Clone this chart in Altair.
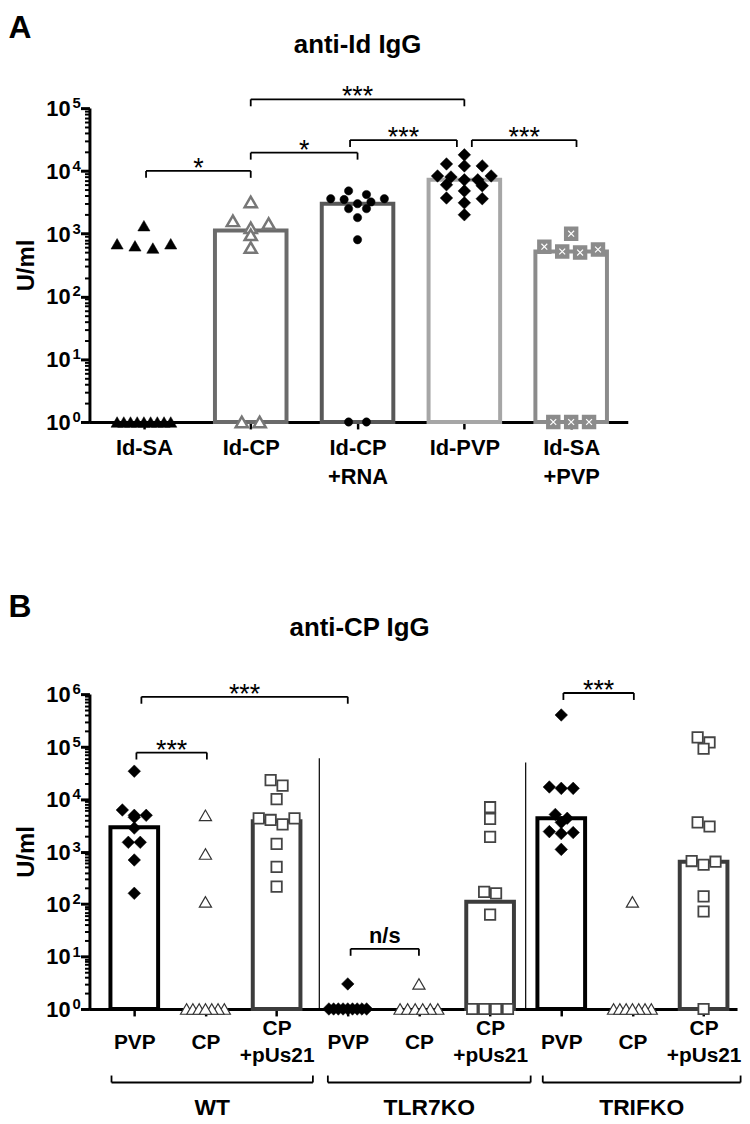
import json
import math
import altair as alt
import pandas as pd

FONT = "Liberation Sans"

# ---------------- Panel A : anti-Id IgG ----------------
A_LABELS = [["Id-SA"], ["Id-CP"], ["Id-CP", "+RNA"], ["Id-PVP"], ["Id-SA", "+PVP"]]
A_ID_SA = [1340, 690, 640, 590, 690, 1, 1, 1, 1, 1, 1, 1, 1, 1]
A_ID_CP = [3200, 1600, 1450, 1240, 960, 600, 1, 1]
A_ID_CP_RNA = [4800, 4200, 3600, 3600, 3500, 3200, 3000, 2500, 2500, 1800, 800, 1, 1]
A_ID_PVP = [18000, 12900, 12000, 12000, 8300, 8300, 8000, 7200, 7200, 6000, 5800,
            4800, 3700, 3600, 3100, 2000]
A_ID_SA_PVP = [1000, 620, 560, 520, 500, 1, 1, 1]
A_VALUES = [A_ID_SA, A_ID_CP, A_ID_CP_RNA, A_ID_PVP, A_ID_SA_PVP]
A_MEDIAN = [1, 1120, 3000, 7200, 520]
A_SIG_FROM = [0.02, 1.0, 1.93, 3.07, 1.0]
A_SIG_TO = [1.0, 2.0, 2.93, 4.05, 3.0]
A_SIG_LEVEL = [1.0e4, 1.95e4, 3.1e4, 3.1e4, 1.38e5]
A_SIG_TEXT = ["*", "*", "***", "***", "***"]

# ---------------- Panel B : anti-CP IgG ----------------
B_LABELS = [["PVP"], ["CP"], ["CP", "+pUs21"]] * 3
B_STRAINS = ["WT", "TLR7KO", "TRIFKO"]
B_WT_PVP = [34000, 6200, 4900, 4900, 4500, 2800, 1500, 1500, 690, 160]
B_WT_CP = [4900, 900, 110, 1, 1, 1, 1, 1, 1, 1]
B_WT_CPUS = [23000, 18000, 10000, 4300, 4300, 4000, 3300, 1400, 510, 215]
B_TLR_PVP = [3, 1, 1, 1, 1, 1, 1, 1, 1, 1]
B_TLR_CP = [3, 1, 1, 1, 1, 1, 1]
B_TLR_CPUS = [7000, 4200, 1900, 170, 160, 63, 1, 1, 1, 1]
B_TRIF_PVP = [400000, 17000, 16000, 16000, 5100, 4300, 3600, 2400, 2300, 2200, 1100]
B_TRIF_CP = [110, 1, 1, 1, 1, 1, 1, 1]
B_TRIF_CPUS = [150000, 120000, 91000, 3600, 3000, 660, 640, 560, 140, 72, 1]
B_VALUES = [B_WT_PVP, B_WT_CP, B_WT_CPUS, B_TLR_PVP, B_TLR_CP, B_TLR_CPUS,
            B_TRIF_PVP, B_TRIF_CP, B_TRIF_CPUS]
B_MEDIAN = [2900, 1, 3800, 1, 1, 110, 4300, 1, 640]
B_SIG_FROM = [0.03, 0.1, 3.04, 6.03]
B_SIG_TO = [1.02, 3.0, 4.0, 7.02]
B_SIG_LEVEL = [7.7e4, 8.9e5, 14, 1.05e6]
B_SIG_TEXT = ["***", "***", "n/s", "***"]
B_SEP_X = [2.6, 5.5]
B_SEP_TOP = [6.0e4, 5.0e4]
B_GROUP_FROM = [-0.32, 2.72, 5.74]
B_GROUP_TO = [2.51, 5.57, 8.52]

# ---------------- geometry / styles ----------------
W_A, H_A = 542, 316
W_B, H_B = 652, 317
A_XDOM = [-0.51, 4.53]
B_XDOM = [-0.63, 8.47]

A_BAR_COLORS = ["#000000", "#6b6b6b", "#585858", "#a6a6a6", "#8b8b8b"]
B_BAR_COLORS = ["#000000", "#000000", "#3c3c3c"] * 3

SQX = "M-0.45,-0.45L0.45,0.45M-0.45,0.45L0.45,-0.45"
A_STYLE = [
    dict(shape="triangle-up", fill="#000000", stroke="#000000", strokeWidth=0.5, size=150),
    dict(shape="triangle-up", fill="#ffffff", stroke="#777777", strokeWidth=2.5, size=150),
    dict(shape="circle", fill="#000000", stroke="#000000", strokeWidth=0.5, size=70),
    dict(shape="diamond", fill="#000000", stroke="#000000", strokeWidth=0.5, size=160),
    dict(shape="square", fill="#8b8b8b", stroke="#8b8b8b", strokeWidth=1.5, size=170),
]
B_PVP = dict(shape="diamond", fill="#000000", stroke="#000000", strokeWidth=0.5, size=160)
B_CP = dict(shape="triangle-up", fill="#ffffff", stroke="#333333", strokeWidth=1.2, size=150)
B_CPUS = dict(shape="square", fill="#ffffff", stroke="#444444", strokeWidth=1.8, size=110)
B_STYLE = [B_PVP, B_CP, B_CPUS] * 3


def row_offsets(values, px_unit, px_dec, row_h, pref, max_span):
    """GraphPad-like horizontal spreading of points sharing a row."""
    order = sorted(range(len(values)), key=lambda i: -values[i])
    rows = []
    for i in order:
        ypx = math.log10(values[i]) * px_dec
        if rows and rows[-1][0] - ypx < row_h:
            rows[-1][1].append(i)
        else:
            rows.append([ypx, [i]])
    offs = [0.0] * len(values)
    for _, members in rows:
        n = len(members)
        if n > 1:
            sp = min(pref, max_span / (n - 1))
            members = members[::2] + members[1::2][::-1]
            for k, i in enumerate(members):
                offs[i] = (k - (n - 1) / 2) * sp / px_unit
    return offs


def y_axis(maxexp, title_pad):
    vals = [m * 10 ** e for e in range(maxexp) for m in range(1, 10)] + [10 ** maxexp]
    lg = "log(datum.value)/LN10"
    major = f"abs({lg} - round({lg})) < 0.001"
    return alt.Axis(
        values=vals, title="U/ml", titleFont=FONT, titleFontSize=24, titleFontWeight="bold",
        titlePadding=title_pad, titleColor="black", labels=False,
        tickSize={"condition": {"test": major, "value": 9}, "value": 5},
        tickWidth={"condition": {"test": major, "value": 3}, "value": 2},
        tickColor="black", domainColor="black", domainWidth=3, grid=False,
    )


def x_axis(labels, vals, fs, pad, pad2, base, lh):
    return alt.Axis(
        values=vals, title=None,
        labelExpr=json.dumps(labels) + "[round(datum.value)]",
        labelFont=FONT, labelFontSize=fs, labelFontWeight="bold", labelColor="black",
        labelPadding={"condition": {"test": f"{json.dumps([len(l) for l in labels])}[round(datum.value)] > 1",
                                    "value": pad2}, "value": pad},
        labelBaseline=base, labelLineHeight=lh, labelAngle=0,
        labelOverlap=False, labelFlush=False,
        tickSize=7, tickWidth=2.5, tickColor="black",
        domainColor="black", domainWidth=3, grid=False,
    )


def panel(values, medians, bar_colors, styles, labels, xdom, ytop, width, height,
          sig, letter, title, letter_y, title_x, title_y, xfs, xpad, xpad2, xbase, xlh,
          bar_w, pref, span, extra=()):
    xs = alt.Scale(domain=xdom, nice=False, zero=False)
    ys = alt.Scale(type="log", domain=[1, ytop], nice=False)
    n = len(values)
    maxexp = int(round(math.log10(ytop)))
    xax = x_axis(labels, list(range(n)), xfs, xpad, xpad2, xbase, xlh)
    yax = y_axis(maxexp, 41)
    X = lambda f: alt.X(f, scale=xs, axis=xax)
    Y = lambda f: alt.Y(f, scale=ys, axis=yax)
    px_unit = width / (xdom[1] - xdom[0])
    px_dec = height / math.log10(ytop)

    bars = pd.DataFrame({
        "x1": [i - 0.335 for i in range(n)],
        "x2": [i + 0.335 for i in range(n)],
        "v": medians,
        "c": bar_colors,
    })
    bars = bars[bars["v"] > 1]
    layers = [
        alt.Chart(bars).mark_bar(fill="white", strokeWidth=bar_w).encode(
            x=X("x1:Q"), x2="x2:Q", y=Y("v:Q"), y2=alt.datum(1),
            stroke=alt.Stroke("c:N", scale=None),
        )
    ]
    for gi, vals in enumerate(values):
        offs = row_offsets(vals, px_unit, px_dec, 7, pref, span)
        df = pd.DataFrame({"x": [gi + o for o in offs], "v": vals})
        st = styles[gi]
        layers.append(
            alt.Chart(df).mark_point(filled=True, opacity=1, **st).encode(x=X("x:Q"), y=Y("v:Q"))
        )
        if st["shape"] == "square" and st["fill"] != "#ffffff":
            layers.append(
                alt.Chart(df).mark_point(shape=SQX, filled=False, opacity=1, stroke="white",
                                         strokeWidth=1.2, size=st["size"]).encode(
                    x=X("x:Q"), y=Y("v:Q"))
            )
    # y tick labels 10^k with superscript exponent
    ylab = pd.DataFrame({"v": [10 ** e for e in range(maxexp + 1)],
                         "b": ["10"] * (maxexp + 1),
                         "s": [str(e) for e in range(maxexp + 1)]})
    layers += [
        alt.Chart(ylab).mark_text(font=FONT, fontSize=22, fontWeight="bold", align="right",
                                  baseline="middle", dy=1, color="black").encode(
            x=alt.value(-19), y=Y("v:Q"), text="b:N"),
        alt.Chart(ylab).mark_text(font=FONT, fontSize=15, fontWeight="bold", align="left",
                                  baseline="middle", dy=-5, color="black").encode(
            x=alt.value(-17), y=Y("v:Q"), text="s:N"),
    ]
    s_from, s_to, s_lev, s_txt = sig
    drop = 10 ** (7 / px_dec)
    sdf = pd.DataFrame({
        "a": s_from, "b": s_to, "y": s_lev,
        "yd": [v / drop for v in s_lev],
        "m": [(p + q) / 2 for p, q in zip(s_from, s_to)],
        "t": s_txt,
    })
    layers += [
        alt.Chart(sdf).mark_rule(color="black", strokeWidth=1.8).encode(x=X("a:Q"), x2="b:Q", y=Y("y:Q")),
        alt.Chart(sdf).mark_rule(color="black", strokeWidth=1.8).encode(x=X("a:Q"), y=Y("y:Q"), y2="yd:Q"),
        alt.Chart(sdf).mark_rule(color="black", strokeWidth=1.8).encode(x=X("b:Q"), y=Y("y:Q"), y2="yd:Q"),
        alt.Chart(sdf[sdf["t"] != "n/s"]).mark_text(font=FONT, fontSize=27, baseline="alphabetic",
                                                   dy=6, color="black").encode(
            x=X("m:Q"), y=Y("y:Q"), text="t:N"),
        alt.Chart(sdf[sdf["t"] == "n/s"]).mark_text(font=FONT, fontSize=22, fontWeight="bold",
                                                   baseline="alphabetic", dy=-6, color="black").encode(
            x=X("m:Q"), y=Y("y:Q"), text="t:N"),
        alt.Chart(pd.DataFrame({"t": [letter]})).mark_text(
            font=FONT, fontSize=32, fontWeight="bold", baseline="middle", align="center",
            color="black").encode(x=alt.value(-70), y=alt.value(letter_y), text="t:N"),
        alt.Chart(pd.DataFrame({"t": [title]})).mark_text(
            font=FONT, fontSize=26, fontWeight="bold", baseline="middle", align="center",
            color="black").encode(x=alt.value(title_x), y=alt.value(title_y), text="t:N"),
    ]
    for e in extra:
        layers.append(e(X, Y))
    return alt.layer(*layers).properties(width=width, height=height)


def b_extras():
    sep = pd.DataFrame({"x": B_SEP_X, "top": B_SEP_TOP})
    grp = pd.DataFrame({"a": B_GROUP_FROM, "b": B_GROUP_TO, "t": B_STRAINS,
                        "m": [(p + q) / 2 for p, q in zip(B_GROUP_FROM, B_GROUP_TO)]})
    return [
        lambda X, Y: alt.Chart(sep).mark_rule(color="black", strokeWidth=1.2).encode(
            x=X("x:Q"), y=Y("top:Q"), y2=alt.datum(1)),
        lambda X, Y: alt.Chart(grp).mark_rule(color="black", strokeWidth=1.8).encode(
            x=X("a:Q"), x2="b:Q", y=alt.value(391)),
        lambda X, Y: alt.Chart(grp).mark_rule(color="black", strokeWidth=1.8).encode(
            x=X("a:Q"), y=alt.value(384), y2=alt.value(391)),
        lambda X, Y: alt.Chart(grp).mark_rule(color="black", strokeWidth=1.8).encode(
            x=X("b:Q"), y=alt.value(384), y2=alt.value(391)),
        lambda X, Y: alt.Chart(grp).mark_text(font=FONT, fontSize=23, fontWeight="bold",
                                              baseline="middle", color="black").encode(
            x=X("m:Q"), y=alt.value(417), text="t:N"),
    ]


panel_a = panel(A_VALUES, A_MEDIAN, A_BAR_COLORS, A_STYLE, A_LABELS, A_XDOM, 1e5, W_A, H_A,
                (A_SIG_FROM, A_SIG_TO, A_SIG_LEVEL, A_SIG_TEXT), "A", "anti-Id IgG",
                -81, 270, -63, 22, 9, 9, "top", 29, 4, 18, 54)
panel_b = panel(B_VALUES, B_MEDIAN, B_BAR_COLORS, B_STYLE, B_LABELS, B_XDOM, 1e6, W_B, H_B,
                (B_SIG_FROM, B_SIG_TO, B_SIG_LEVEL, B_SIG_TEXT), "B", "anti-CP IgG",
                -88, 272, -67, 21, 27, 13, "middle", 27, 4, 12, 38, extra=b_extras())

chart = alt.vconcat(panel_a, panel_b, spacing=104).properties(
    padding={"left": 0, "top": 0, "right": 0, "bottom": 0}
).configure_view(stroke=None)

chart.save("out.html", embed_options={"renderer": "svg", "actions": False})
